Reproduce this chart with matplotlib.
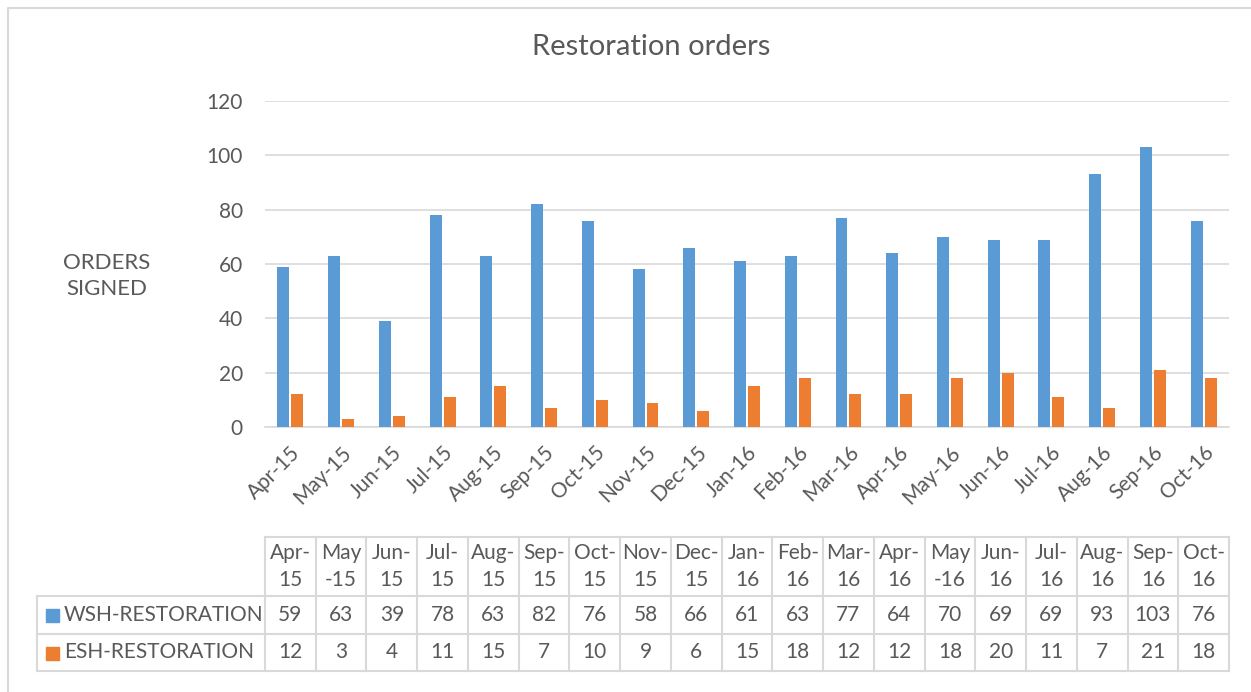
import matplotlib.pyplot as plt
import numpy as np

plt.rcParams['font.family'] = ['Lato', 'DejaVu Sans']

months = ['Apr-15', 'May-15', 'Jun-15', 'Jul-15', 'Aug-15', 'Sep-15', 'Oct-15',
          'Nov-15', 'Dec-15', 'Jan-16', 'Feb-16', 'Mar-16', 'Apr-16', 'May-16',
          'Jun-16', 'Jul-16', 'Aug-16', 'Sep-16', 'Oct-16']
# table header labels, wrapped the way the table shows them
headerLabels = ['Apr-\n15', 'May\n-15', 'Jun-\n15', 'Jul-\n15', 'Aug-\n15', 'Sep-\n15',
                'Oct-\n15', 'Nov-\n15', 'Dec-\n15', 'Jan-\n16', 'Feb-\n16', 'Mar-\n16',
                'Apr-\n16', 'May\n-16', 'Jun-\n16', 'Jul-\n16', 'Aug-\n16', 'Sep-\n16', 'Oct-\n16']
wsh = [59, 63, 39, 78, 63, 82, 76, 58, 66, 61, 63, 77, 64, 70, 69, 69, 93, 103, 76]
esh = [12, 3, 4, 11, 15, 7, 10, 9, 6, 15, 18, 12, 12, 18, 20, 11, 7, 21, 18]
seriesNames = ['WSH-RESTORATION', 'ESH-RESTORATION']

BLUE = '#5B9BD5'
ORANGE = '#ED7D31'
TEXT = '#595959'
GRID = '#D9D9D9'
FS = 15

W, H = 1251, 692
fig = plt.figure(figsize=(W / 100, H / 100), dpi=100)

# plot area in pixel coordinates
left, right, top, bottom = 265, 1229, 101, 427
ax = fig.add_axes([left / W, 1 - bottom / H, (right - left) / W, (bottom - top) / H])

x = np.arange(len(months))
barWidth = 0.235
ax.bar(x - barWidth / 2 - 0.02, wsh, barWidth, color=BLUE, zorder=3)
ax.bar(x + barWidth / 2 + 0.02, esh, barWidth, color=ORANGE, zorder=3)

ax.set_xlim(-0.5, len(months) - 0.5)
ax.set_ylim(0, 120)
ax.set_yticks(range(0, 121, 20))
ax.yaxis.grid(True, color=GRID, linewidth=1.2, zorder=0)
ax.tick_params(axis='y', length=0, pad=16, labelsize=FS, labelcolor=TEXT)
ax.set_xticks(x)
ax.set_xticklabels(months, rotation=45, ha='right', rotation_mode='anchor')
ax.tick_params(axis='x', length=0, pad=11, labelsize=FS, labelcolor=TEXT)
for side in ['top', 'right', 'left']:
    ax.spines[side].set_visible(False)
ax.spines['bottom'].set_color(GRID)
ax.spines['bottom'].set_linewidth(1.2)

# overlay in pixel coordinates for title, axis label, table and border
ov = fig.add_axes([0, 0, 1, 1], zorder=-1)
ov.set_xlim(0, W)
ov.set_ylim(H, 0)
ov.axis('off')

ov.plot([8, 8, W + 5], [H + 5, 8, 8], color=GRID, linewidth=1.5)
ov.text(651, 47, 'Restoration orders', ha='center', va='center', fontsize=21, color=TEXT)
ov.text(107, 276, 'ORDERS\nSIGNED', ha='center', va='center', fontsize=16,
        color=TEXT, linespacing=1.35)

# data table
colW = (right - left) / len(months)
tTop, r1, r2, tBot, legLeft = 537, 596, 634, 671, 37
ov.plot([left, right], [tTop, tTop], color=GRID, linewidth=1.5)
for yy in [r1, r2, tBot]:
    ov.plot([legLeft, right], [yy, yy], color=GRID, linewidth=1.5)
ov.plot([legLeft, legLeft], [r1, tBot], color=GRID, linewidth=1.5)
for i in range(len(months) + 1):
    xx = left + i * colW
    ov.plot([xx, xx], [tTop, tBot], color=GRID, linewidth=1.5)

for i, label in enumerate(headerLabels):
    cx = left + (i + 0.5) * colW
    ov.text(cx, (tTop + r1) / 2, label, ha='center', va='center', fontsize=FS,
            color=TEXT, linespacing=1.42)
    ov.text(cx, (r1 + r2) / 2, str(wsh[i]), ha='center', va='center', fontsize=FS, color=TEXT)
    ov.text(cx, (r2 + tBot) / 2, str(esh[i]), ha='center', va='center', fontsize=FS, color=TEXT)

for rowTop, rowBot, name, color in [(r1, r2, seriesNames[0], BLUE), (r2, tBot, seriesNames[1], ORANGE)]:
    cy = (rowTop + rowBot) / 2
    ov.add_patch(plt.Rectangle((46, cy - 6), 13, 13, color=color))
    ov.text(64, cy, name, ha='left', va='center', fontsize=FS, color=TEXT)

fig.savefig('out.png', dpi=100)
